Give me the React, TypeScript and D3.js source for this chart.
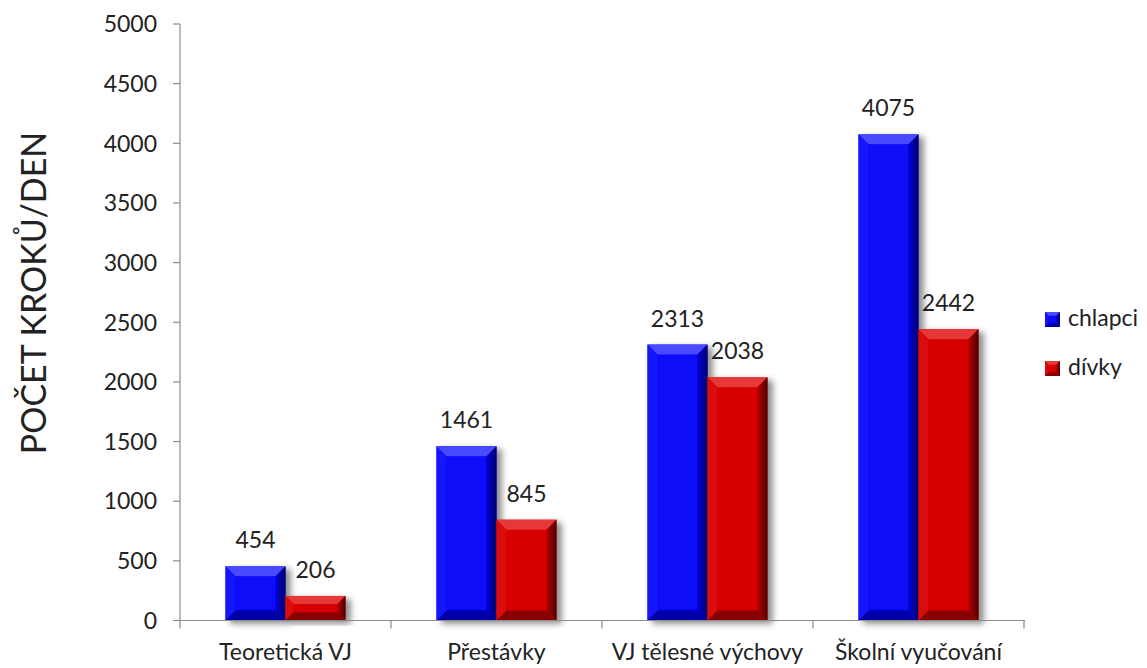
import React from "react";
import * as d3 from "d3";

const categories = ["Teoretická VJ", "Přestávky", "VJ tělesné výchovy", "Školní vyučování"];
const seriesNames = ["chlapci", "dívky"];
const chlapci = [454, 1461, 2313, 4075];
const divky = [206, 845, 2038, 2442];
const yTicks = [0, 500, 1000, 1500, 2000, 2500, 3000, 3500, 4000, 4500, 5000];
const axisTitle = "POČET KROKŮ/DEN";

const W = 1147;
const H = 668;
const FONT = "Lato, 'Open Sans', sans-serif";

type Palette = { base: string; top: string; left: string; rightIn: string; rightOut: string; bottom: string };
const palettes: Palette[] = [
  { base: "#0a0af8", top: "#4a4aff", left: "#1414fc", rightIn: "#0000d8", rightOut: "#00006a", bottom: "#0000a6" },
  { base: "#d60000", top: "#e63838", left: "#da0a0a", rightIn: "#b40000", rightOut: "#4a0000", bottom: "#880000" },
];

function BevelRect({ x, y, w, h, p, id, shadow }: { x: number; y: number; w: number; h: number; p: Palette; id: string; shadow: boolean }) {
  const b = Math.max(2, Math.min(10, h / 3, w / 4));
  const x1 = x + w;
  const y1 = y + h;
  const pts = (a: number[][]) => a.map((q) => q.join(",")).join(" ");
  return (
    <g filter={shadow ? "url(#barShadow)" : undefined}>
      <defs>
        <linearGradient id={id} x1="0" x2="1" y1="0" y2="0">
          <stop offset="0" stopColor={p.rightIn} />
          <stop offset="1" stopColor={p.rightOut} />
        </linearGradient>
      </defs>
      <rect x={x} y={y} width={w} height={h} fill={p.base} />
      <polygon points={pts([[x, y], [x1, y], [x1 - b, y + b], [x + b, y + b]])} fill={p.top} />
      <polygon points={pts([[x, y], [x + b, y + b], [x + b, y1 - b], [x, y1]])} fill={p.left} />
      <polygon points={pts([[x1, y], [x1, y1], [x1 - b, y1 - b], [x1 - b, y + b]])} fill={`url(#${id})`} />
      <polygon points={pts([[x, y1], [x + b, y1 - b], [x1 - b, y1 - b], [x1, y1]])} fill={p.bottom} />
    </g>
  );
}

export default function App() {
  const x0 = d3.scaleBand<string>().domain(categories).range([180, 1024]).paddingInner(0).paddingOuter(0);
  const bw = x0.bandwidth();
  const groupW = 120;
  const x1 = d3.scaleBand<string>().domain(seriesNames).range([(bw - groupW) / 2, (bw + groupW) / 2]);
  const y = d3.scaleLinear().domain([0, 5000]).range([620.5, 24]);
  const series = [chlapci, divky];
  const axisColor = "#8c8c8c";
  const boundaries = [...categories.map((c) => x0(c) as number), 1024];

  return (
    <svg width={W} height={H} style={{ position: "absolute", left: 0, top: 0, background: "#fff" }} fontFamily={FONT}>
      <defs>
        <filter id="barShadow" x="-20%" y="-10%" width="150%" height="130%">
          <feDropShadow dx="5" dy="3" stdDeviation="3" floodColor="#000" floodOpacity="0.45" />
        </filter>
      </defs>

      {/* y axis */}
      <line x1={180} x2={180} y1={y(5000)} y2={y(0)} stroke={axisColor} strokeWidth={1.2} />
      {yTicks.map((t) => (
        <g key={t} transform={`translate(0,${y(t)})`}>
          <line x1={173} x2={180} stroke={axisColor} strokeWidth={1.2} />
          <text x={157} dy="0.36em" textAnchor="end" fontSize={23} fill="#222">{t}</text>
        </g>
      ))}

      {/* axis title */}
      <text transform="translate(46,293) rotate(-90)" textAnchor="middle" fontSize={34} fill="#222">{axisTitle}</text>

      {/* bars */}
      {categories.map((c, ci) => (
        <g key={c} transform={`translate(${x0(c)},0)`}>
          {seriesNames.map((s, si) => {
            const v = series[si][ci];
            const bx = x1(s) as number;
            const top = y(v);
            return (
              <BevelRect key={s} x={bx} y={top} w={x1.bandwidth()} h={y(0) - top} p={palettes[si]} id={`g${ci}${si}`} shadow />
            );
          })}
        </g>
      ))}
      {categories.map((c, ci) => (
        <g key={c + "lbl"} transform={`translate(${x0(c)},0)`}>
          {seriesNames.map((s, si) => {
            const v = series[si][ci];
            return (
              <text key={s} x={(x1(s) as number) + x1.bandwidth() / 2} y={y(v) - 18} textAnchor="middle" fontSize={23} fill="#222">
                {v}
              </text>
            );
          })}
        </g>
      ))}

      {/* x axis */}
      <line x1={180} x2={1025} y1={y(0)} y2={y(0)} stroke={axisColor} strokeWidth={1.2} />
      {boundaries.map((bx) => (
        <line key={bx} x1={bx} x2={bx} y1={y(0)} y2={y(0) + 8} stroke={axisColor} strokeWidth={1.2} />
      ))}
      {categories.map((c) => (
        <text key={c} x={(x0(c) as number) + bw / 2} y={660} textAnchor="middle" fontSize={23} fill="#222">{c}</text>
      ))}

      {/* legend */}
      {seriesNames.map((s, si) => (
        <g key={s} transform={`translate(1045,${312 + si * 49})`}>
          <BevelRect x={0} y={0} w={15} h={15} p={palettes[si]} id={`lg${si}`} shadow={false} />
          <text x={23} y={14} fontSize={23} fill="#222">{s}</text>
        </g>
      ))}
    </svg>
  );
}
